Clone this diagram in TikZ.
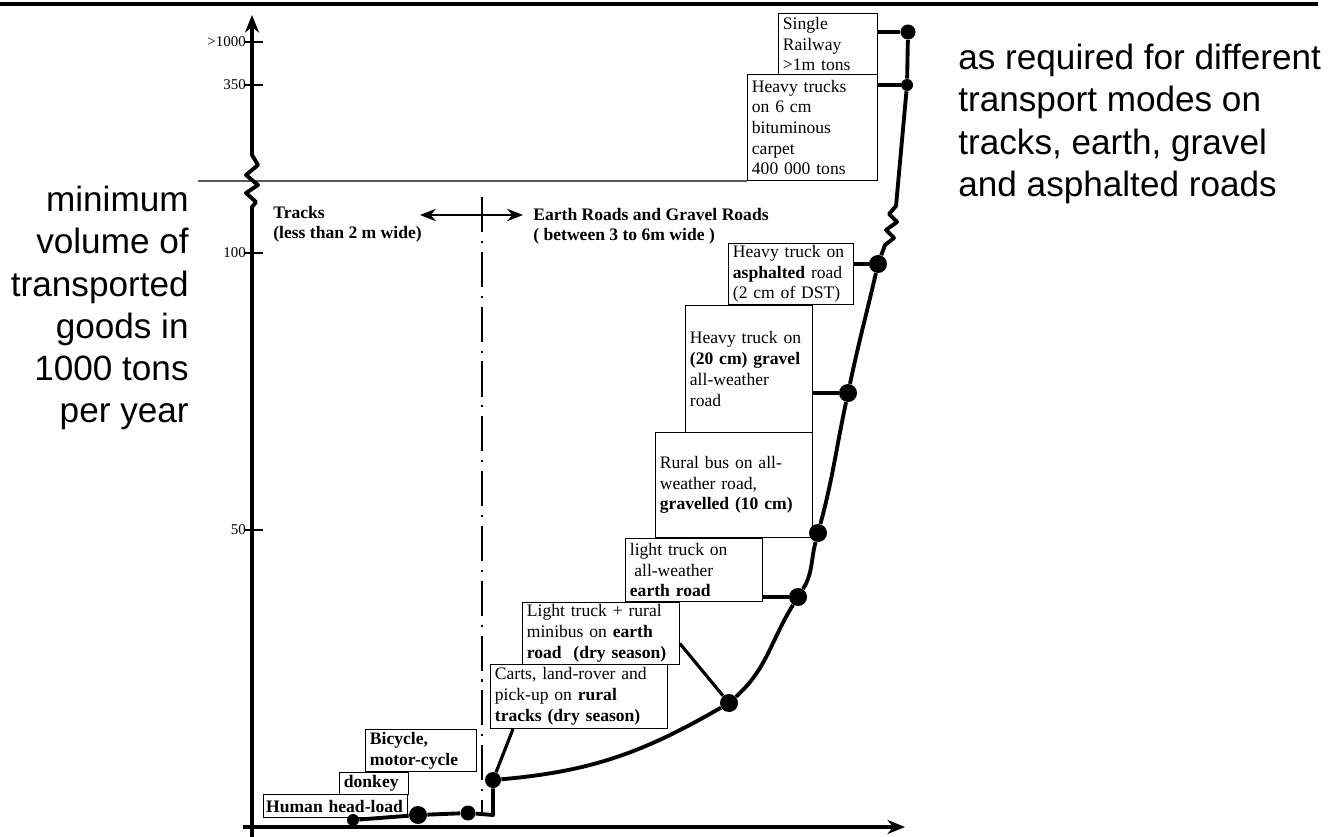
\documentclass[tikz,border=0pt]{standalone}
\usepackage{fontspec}
\setmainfont{Liberation Serif}
\newfontfamily\sansfont{Liberation Sans}
\usetikzlibrary{arrows.meta,calc}
\newcommand{\boxfont}{\fontsize{10}{11.8}\selectfont}
\newcommand{\labfont}{\fontsize{10}{11.4}\selectfont\bfseries}
\newcommand{\bigfont}{\sansfont\fontsize{20}{24}\selectfont}

\begin{document}
\begin{tikzpicture}[x=0.02cm,y=-0.02cm]
                        \tikzstyle{box}=[draw,line width=0.6pt,anchor=north west,align=left,inner xsep=2.5pt,inner ysep=1pt,font=\boxfont]
                        \tikzstyle{dot}=[circle,fill,inner sep=0pt,minimum size=0.36cm]
                        \tikzstyle{curve}=[line width=2.2pt,line join=round]
                        \tikzstyle{link}=[line width=1.8pt]
                        \tikzstyle{axis}=[line width=2.2pt,line join=round,-{Stealth[length=10pt,width=8pt]}]
                        \useasboundingbox (0,0) rectangle (1341,837);
                        \draw[line width=2.8pt] (0,4) -- (1318,4);
                        \node[box,text width=1.80cm,minimum height=1.22cm] (rail) at (778,13) {Single\\Railway\\>1m tons};
                        \node[box,text width=2.42cm,minimum height=2.12cm] (bitum) at (747,74) {Heavy trucks\\on 6 cm\\bituminous\\carpet\\400 000 tons};
                        \node[box,text width=2.32cm,minimum height=1.22cm] (asphalt) at (728,243) {Heavy truck on\\\textbf{asphalted} road\\(2 cm of DST)};
                        \node[box,text width=2.36cm,minimum height=2.54cm] (gravel) at (685,305) {Heavy truck on\\\textbf{(20 cm) gravel}\\all-weather\\road};
                        \node[box,text width=2.96cm,minimum height=2.10cm] (bus) at (655,432) {Rural bus on all-\\weather road,\\\textbf{gravelled (10 cm)}};
                        \node[box,text width=2.56cm,minimum height=1.26cm] (earth) at (625,538) {light truck on\\\hspace*{0.25em}all-weather\\\textbf{earth road}};
                        \node[box,text width=2.96cm,minimum height=1.24cm] (minibus) at (522,602) {Light truck + rural\\minibus on \textbf{earth}\\\textbf{road~ (dry season)}};
                        \node[box,text width=3.36cm,minimum height=1.28cm] (carts) at (490,664) {Carts, land-rover and\\pick-up on \textbf{rural}\\\textbf{tracks (dry season)}};
                        \node[box,font=\boxfont\bfseries,text width=2.04cm,minimum height=0.84cm] (bicycle) at (365,729) {Bicycle,\\motor-cycle};
                        \node[box,font=\boxfont\bfseries,text width=1.20cm,minimum height=0.44cm] (donkey) at (339,772) {donkey};
                        \node[box,font=\boxfont\bfseries,inner xsep=1.5pt,text width=2.78cm,minimum height=0.46cm] (human) at (263,794) {Human head-load};
                        \node[dot,minimum size=0.24cm] (d0) at (353,820) {};
                        \node[dot] (d1) at (418,815) {};
                        \node[dot,minimum size=0.3cm] (d2) at (468,813) {};
                        \node[dot,minimum size=0.32cm] (d3) at (493,780) {};
                        \node[dot] (d4) at (729,703) {};
                        \node[dot] (d5) at (798,597) {};
                        \node[dot] (d6) at (818,533) {};
                        \node[dot] (d7) at (848,393) {};
                        \node[dot] (d8) at (878,264) {};
                        \node[dot,minimum size=0.24cm] (d9) at (907,85) {};
                        \node[dot,minimum size=0.3cm] (d10) at (908,32) {};
                        \draw[curve] (d0) -- (d1) -- (d2) -- (493,815) -- (d3)
                            to[out=5,in=-150] (d4) to[out=42,in=-122] (d5) to[out=58,in=-105] (d6)
                            to[out=75,in=-102] (d7) to[out=78,in=-103] (d8)
                            -- (885,245) -- (894,238) -- (886,230) -- (897,222) -- (889,214) -- (896,206) -- (d9) -- (d10);
                        \draw[link] (rail.east |- d10) -- (d10);
                        \draw[link] (bitum.east |- d9) -- (d9);
                        \draw[link] (asphalt.east |- d8) -- (d8);
                        \draw[link,line width=2.6pt] (gravel.east |- d7) -- (d7);
                        \draw[link] (earth.east |- d5) -- (d5);
                        \draw[link] ([yshift=-0.2cm]minibus.east) -- (d4);
                        \draw[link] ([xshift=0.46cm]carts.south west) -- (d3);
                        \coordinate (ybot) at (252,837);
                        \coordinate (ytop) at (252,15);
                        \coordinate (xbeg) at (243,827);
                        \coordinate (xend) at (905,827);
                        \draw[axis] (ybot) -- (252,207) -- (256,202) -- (246,193) -- (258,185) -- (246,175) -- (258,165) -- (252,155) -- (ytop);
                        \draw[axis] (xbeg) -- (xend);
                        \foreach \yv/\lab in {42/>1000,85/350,253/100,530/50}{
                            \draw[line width=1.2pt] (245,\yv) -- (263,\yv);
                            \node[anchor=east,inner sep=0.5pt,font=\fontsize{8.5}{9}\selectfont] at (247,\yv) {\lab};
                        }
                        \coordinate (brk) at (198,181);
                        \draw[line width=0.8pt] (brk) -- (bitum.south west);
                        \coordinate (sep top) at (482,197);
                        \coordinate (sep bot) at (482,815);
                        \draw[line width=1.1pt,dash pattern=on 20pt off 5pt on 1.2pt off 5pt] (sep top) -- (sep bot);
                        \coordinate (arl) at (420,215);
                        \coordinate (arr) at (523,215);
                        \draw[line width=1.6pt,{Stealth[length=9pt,width=7pt]}-{Stealth[length=9pt,width=7pt]}] (arl) -- (arr);
                        \node[anchor=north west,align=left,inner sep=0pt,font=\labfont] (tracks) at (273,206) {Tracks\\(less than 2 m wide)};
                        \node[anchor=north west,align=left,inner sep=0pt,font=\labfont] (roads) at (533,208) {Earth Roads and Gravel Roads\\( between 3 to 6m wide )};
                        \node[anchor=north east,align=right,inner sep=0pt,font=\bigfont] (ylabel) at (189,186) {minimum\\volume of\\transported\\goods in\\1000 tons\\per year};
                        \node[anchor=north west,align=left,inner sep=0pt,font=\bigfont] (note) at (958,44) {as required for different\\transport modes on\\tracks, earth, gravel\\and asphalted roads};
\end{tikzpicture}
\end{document}
